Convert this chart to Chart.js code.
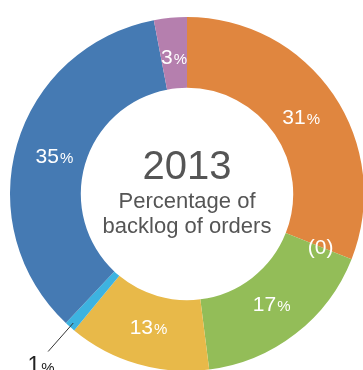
<!DOCTYPE html>
<html>
<head>
<meta charset="utf-8">
<script src="https://cdn.jsdelivr.net/npm/chart.js@4"></script>
<style>
    html, body { margin: 0; padding: 0; background: #fff; overflow: hidden; }
    #wrap { position: absolute; left: 0; top: 0; width: 364px; height: 371px; }
</style>
</head>
<body>
<div id="wrap"><canvas id="chart" width="364" height="371"></canvas></div>
<script>
// ========== DATA ==========
const categories = ['Segment A', 'Segment B', 'Segment C', 'Segment D', 'Segment E', 'Segment F', 'Segment G'];
const shares = [31, 0, 17, 13, 1, 35, 3];
const colors = ['#E0863F', '#E0863F', '#93BD58', '#E8B949', '#3DB3E0', '#457AB3', '#B57FAE'];
const centerYear = '2013';
const centerLines = ['Percentage of', 'backlog of orders'];

const FONT = "'Liberation Sans', Arial, Helvetica, sans-serif";

// draws "31%" with a smaller percent sign, centred on x, at baseline baseY
function drawPct(ctx, value, x, baseY, color, numSize, pctSize) {
    ctx.save();
    ctx.fillStyle = color;
    ctx.textBaseline = 'alphabetic';
    ctx.textAlign = 'left';
    if (value === 0) {
        ctx.font = `${numSize}px ${FONT}`;
        const w = ctx.measureText('(0)').width;
        ctx.fillText('(0)', x - w / 2, baseY);
        ctx.restore();
        return;
    }
    const num = String(value);
    const gap = 1;
    ctx.font = `${numSize}px ${FONT}`;
    const wNum = ctx.measureText(num).width;
    ctx.font = `${pctSize}px ${FONT}`;
    const wPct = ctx.measureText('%').width;
    const left = x - (wNum + wPct + gap) / 2;
    ctx.font = `${numSize}px ${FONT}`;
    ctx.fillText(num, left, baseY);
    ctx.font = `${pctSize}px ${FONT}`;
    ctx.fillText('%', left + wNum + gap, baseY);
    ctx.restore();
}

const labelPlugin = {
    id: 'sliceLabels',
    afterDatasetsDraw(chart) {
        const ctx = chart.ctx;
        const meta = chart.getDatasetMeta(0);
        meta.data.forEach((arc, i) => {
            const p = arc.getProps(['x', 'y', 'startAngle', 'endAngle', 'innerRadius', 'outerRadius'], true);
            const mid = (p.startAngle + p.endAngle) / 2;
            const v = shares[i];
            const r = p.innerRadius + (p.outerRadius - p.innerRadius) * (v === 0 ? 0.53 : 0.45);
            if (v === 1) {
                // small slice: label outside with a leader line
                const x1 = p.x + Math.cos(mid) * (p.outerRadius - 5);
                const y1 = p.y + Math.sin(mid) * (p.outerRadius - 5);
                const x2 = p.x + Math.cos(mid) * (p.outerRadius + 33);
                const y2 = p.y + Math.sin(mid) * (p.outerRadius + 33);
                ctx.save();
                ctx.strokeStyle = '#333';
                ctx.lineWidth = 1;
                ctx.beginPath();
                ctx.moveTo(x1, y1);
                ctx.lineTo(x2, y2);
                ctx.stroke();
                ctx.restore();
                drawPct(ctx, v, x2 - 7, y2 + 21, '#222', 23, 15);
                return;
            }
            drawPct(ctx, v, p.x + Math.cos(mid) * r, p.y + Math.sin(mid) * r + 7.5, '#fff', 21, 15);
        });

        // centre text
        const cx = meta.data[0].x, cy = meta.data[0].y;
        ctx.save();
        ctx.textAlign = 'center';
        ctx.textBaseline = 'alphabetic';
        ctx.fillStyle = '#555';
        ctx.font = `40px ${FONT}`;
        ctx.fillText(centerYear, cx, cy - 15);
        ctx.font = `22px ${FONT}`;
        ctx.fillText(centerLines[0], cx, cy + 14);
        ctx.fillText(centerLines[1], cx, cy + 39);
        ctx.restore();
    }
};

new Chart(document.getElementById('chart'), {
    type: 'doughnut',
    data: {
        labels: categories,
        datasets: [{
            data: shares,
            backgroundColor: colors,
            borderWidth: 0
        }]
    },
    options: {
        responsive: false,
        animation: false,
        cutout: '60%',
        layout: { padding: { left: 10, top: 17, right: 0, bottom: 0 } },
        plugins: {
            legend: { display: false },
            tooltip: { enabled: false }
        }
    },
    plugins: [labelPlugin]
});
</script>
</body>
</html>
